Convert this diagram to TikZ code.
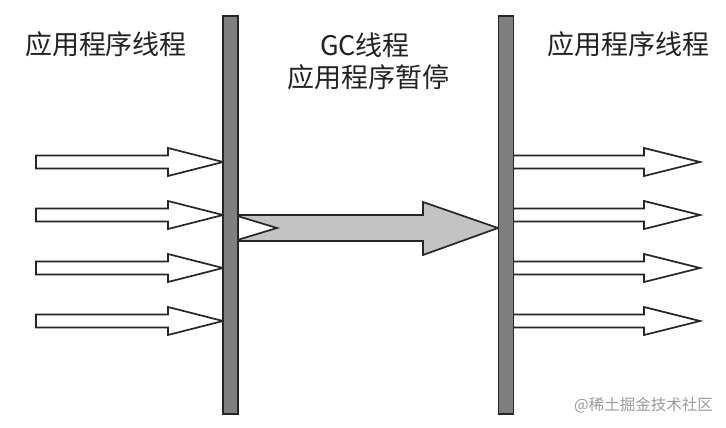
\documentclass[tikz,border=0pt]{standalone}
\usepackage{fontspec}
\newfontfamily\cjk{Noto Sans CJK SC}
\definecolor{bargray}{HTML}{7F7F7F}
\definecolor{bigfill}{HTML}{C3C3C3}
\definecolor{txt}{HTML}{222222}
\definecolor{wm}{HTML}{9A9A9A}
\tikzset{
  thinarrow/.style={draw=black!85, fill=white, line width=1.7pt, line join=miter},
  bigarrow/.style={draw=black!85, fill=bigfill, line width=1.7pt, line join=miter},
  bar/.style={draw=black!85, fill=bargray, line width=1.4pt},
  label/.style={font=\cjk\fontsize{27}{30}\selectfont, text=txt, inner sep=0pt},
  watermark/.style={font=\cjk\fontsize{15.5}{17}\selectfont, text=wm, inner sep=0pt}
}
\begin{document}
\begin{tikzpicture}[x=1pt,y=-1pt]
\useasboundingbox[fill=white] (0,0) rectangle (726,428);
% left arrows
\foreach \c in {162,215,268,321}{
  \draw[thinarrow] (36,\c-6.5) -- (168,\c-6.5) -- (168,\c-14) -- (223,\c) -- (168,\c+14) -- (168,\c+6.5) -- (36,\c+6.5) -- cycle;
}
% right arrows
\foreach \c in {162,215,268,321}{
  \draw[thinarrow] (510,\c-6.5) -- (644,\c-6.5) -- (644,\c-14) -- (700,\c) -- (644,\c+14) -- (644,\c+6.5) -- (510,\c+6.5) -- cycle;
}
% big arrow
\draw[bigarrow] (234,215) -- (423,215) -- (423,202) -- (498,228) -- (423,255) -- (423,241) -- (234,241) -- (277,228) -- cycle;
% bars
\node[bar, minimum width=15pt, minimum height=398pt, inner sep=0pt] (lbar) at (230.5,215) {};
\node[bar, minimum width=15pt, minimum height=398pt, inner sep=0pt] (rbar) at (506,215) {};
% texts
\node[label] (lt) at (106,44) {应用程序线程};
\node[label] (rt) at (628.5,44) {应用程序线程};
\node[label] (gc) at (365,45) {GC线程};
\node[label] (pause) at (368,77) {应用程序暂停};
\node[watermark] (wmk) at (643.5,405) {@稀土掘金技术社区};
\end{tikzpicture}
\end{document}
